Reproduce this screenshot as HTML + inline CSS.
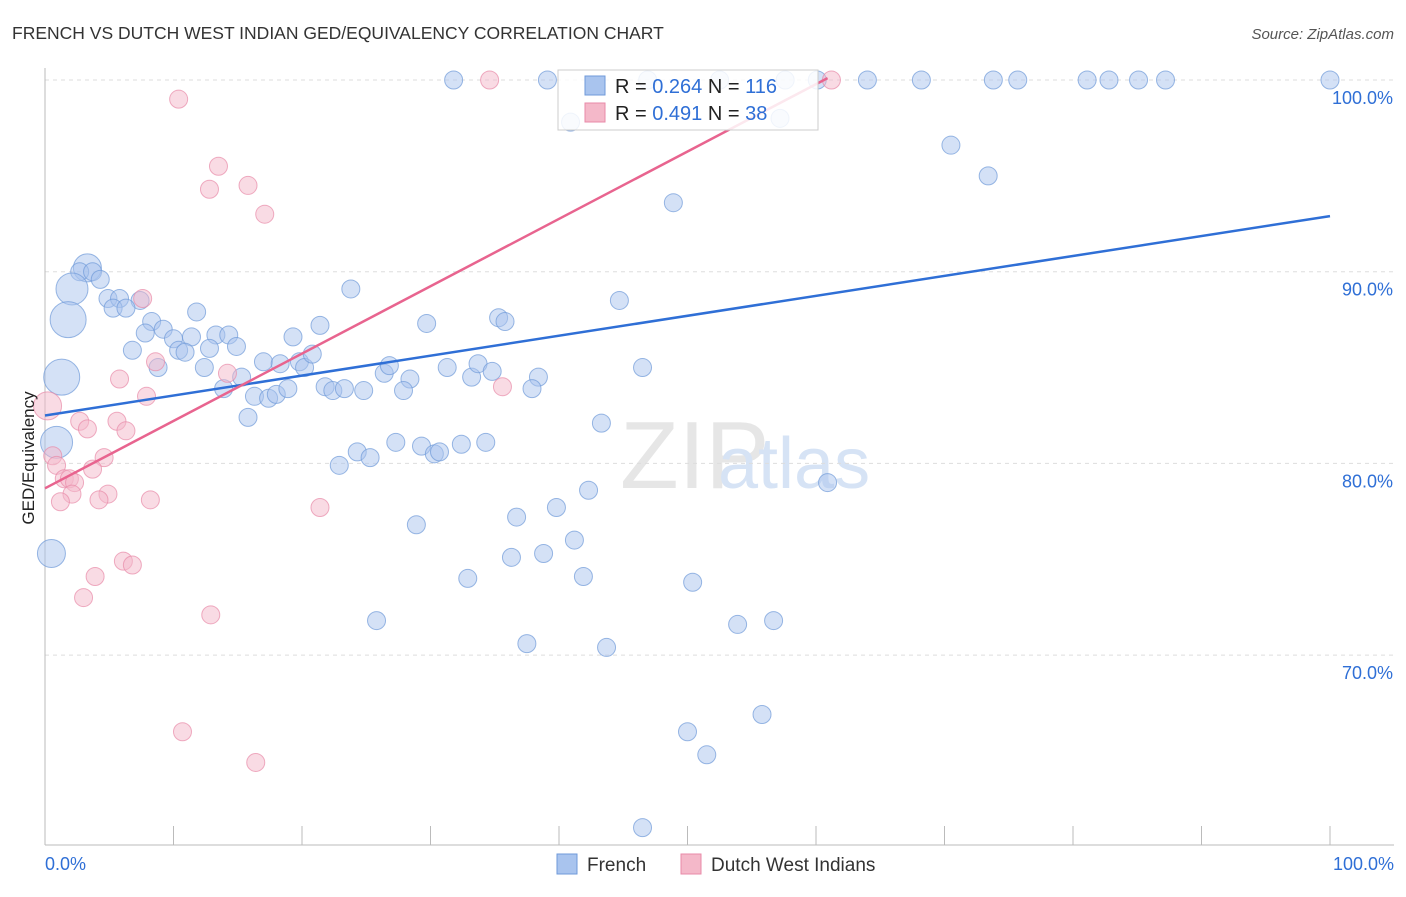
<!DOCTYPE html>
<html><head><meta charset="utf-8"><style>
body{margin:0;background:#fff;font-family:"Liberation Sans",sans-serif}
svg text{font-family:"Liberation Sans",sans-serif}
</style></head><body>
<svg id="c" width="1406" height="892">
<text x="12" y="39" font-size="17.5" fill="#333">FRENCH VS DUTCH WEST INDIAN GED/EQUIVALENCY CORRELATION CHART</text>
<text x="1394" y="39" font-size="15" fill="#555" font-style="italic" text-anchor="end">Source: ZipAtlas.com</text>
<text x="620" y="488" font-size="96" fill="#e6e6e6" font-family="Liberation Serif">ZIP</text>
<text x="718" y="488" font-size="72" fill="#d6e3f5">atlas</text>
<g id="grid"></g><g id="pts"></g><g id="lines"></g>
<text transform="translate(34,458) rotate(-90)" font-size="17" fill="#222" text-anchor="middle">GED/Equivalency</text>
<g>
<rect x="558" y="70" width="260" height="60" fill="#fff" fill-opacity="0.85" stroke="#ccc"/>
<rect x="585" y="76" width="20" height="19" fill="#a9c4ee" stroke="#6f9ad9"/>
<rect x="585" y="103" width="20" height="19" fill="#f4b8c9" stroke="#e88aa8"/>
<text x="615" y="93" font-size="20" fill="#222">R = <tspan fill="#2f6fd6">0.264</tspan>   N = <tspan fill="#2f6fd6">116</tspan></text>
<text x="615" y="120" font-size="20" fill="#222">R =  <tspan fill="#2f6fd6">0.491</tspan>   N =  <tspan fill="#2f6fd6">38</tspan></text>
</g>
<g>
<rect x="557" y="854" width="20" height="20" fill="#a9c4ee" stroke="#6f9ad9"/>
<text x="587" y="871" font-size="19" fill="#333">French</text>
<rect x="681" y="854" width="20" height="20" fill="#f4b8c9" stroke="#e88aa8"/>
<text x="711" y="871" font-size="19" fill="#333">Dutch West Indians</text>
</g>
</svg>
<script>
const yTicks=[100,90,80,70];
const yTickLabels=["100.0%","90.0%","80.0%","70.0%"];
const xTickLabels=["0.0%","100.0%"];
const frenchPts=[[31.8,100],[39.1,100],[46.9,100],[52.5,100],[57.6,100],[60.1,100],[64.0,100],[68.2,100],[73.8,100],[75.7,100],[81.1,100],[82.8,100],[85.1,100],[87.2,100],[100,100],
[40.9,97.8],[57.2,98.0],[70.5,96.6],[73.4,95.0],[48.9,93.6],[3.3,90.2],[2.7,90.0],[3.7,90.0],[4.3,89.6],[2.1,89.1],[4.9,88.6],[5.8,88.6],[7.4,88.5],[5.3,88.1],[6.3,88.1],[1.8,87.5],[11.8,87.9],[8.3,87.4],[9.2,87.0],[7.8,86.8],[10.0,86.5],[11.4,86.6],[13.3,86.7],[14.3,86.7],[6.8,85.9],[10.4,85.9],[10.9,85.8],[12.8,86.0],[14.9,86.1],[8.8,85.0],[12.4,85.0],[1.3,84.5],[17.0,85.3],[18.3,85.2],[19.8,85.3],[20.2,85.0],[20.8,85.7],[19.3,86.6],[21.4,87.2],[23.8,89.1],[29.7,87.3],[35.3,87.6],[35.8,87.4],[44.7,88.5],[15.3,84.5],[13.9,83.9],[16.3,83.5],[17.4,83.4],[18.0,83.6],[18.9,83.9],[21.8,84.0],[22.4,83.8],[23.3,83.9],[24.8,83.8],[26.4,84.7],[26.8,85.1],[28.4,84.4],[27.9,83.8],[31.3,85.0],[33.2,84.5],[33.7,85.2],[34.8,84.8],[38.4,84.5],[37.9,83.9],[46.5,85.0],[15.8,82.4],[0.9,81.1],[43.3,82.1],[24.3,80.6],[25.3,80.3],[27.3,81.1],[22.9,79.9],[29.3,80.9],[30.3,80.5],[30.7,80.6],[32.4,81.0],[34.3,81.1],[42.3,78.6],[60.9,79.0],[0.5,75.3],[28.9,76.8],[36.7,77.2],[39.8,77.7],[36.3,75.1],[38.8,75.3],[41.2,76.0],[32.9,74.0],[41.9,74.1],[50.4,73.8],[25.8,71.8],[53.9,71.6],[56.7,71.8],[37.5,70.6],[43.7,70.4],[50.0,66.0],[55.8,66.9],[51.5,64.8],[46.5,61.0]];
const frenchSizes={"3.3,90.2":14,"2.1,89.1":16,"1.8,87.5":18,"1.3,84.5":18,"0.9,81.1":16,"0.5,75.3":14};
const dutchPts=[[34.6,100],[61.2,100],[10.4,99.0],[13.5,95.5],[15.8,94.5],[12.8,94.3],[17.1,93.0],[7.6,88.6],[8.6,85.3],[14.2,84.7],[5.8,84.4],[7.9,83.5],[0.2,83.0],[2.7,82.2],[5.6,82.2],[3.3,81.8],[6.3,81.7],[35.6,84.0],[0.6,80.4],[4.6,80.3],[0.9,79.9],[3.7,79.7],[1.5,79.2],[1.9,79.2],[2.3,79.0],[2.1,78.4],[4.9,78.4],[1.2,78.0],[4.2,78.1],[8.2,78.1],[21.4,77.7],[6.1,74.9],[6.8,74.7],[3.9,74.1],[3.0,73.0],[12.9,72.1],[10.7,66.0],[16.4,64.4]];
const frenchTrend=[[0,82.5],[100,92.9]];
const dutchTrend=[[0,78.7],[60.9,100.1]];
const NS="http://www.w3.org/2000/svg";
const X=v=>45+v*12.85, Y=v=>80+(100-v)*19.17;
function mk(t,a,p){const e=document.createElementNS(NS,t);for(const k in a)e.setAttribute(k,a[k]);p.appendChild(e);return e;}
const g=document.getElementById('grid');
yTicks.forEach((t,i)=>{
 const l=mk('line',{x1:45,x2:1394,y1:Y(t),y2:Y(t),stroke:'#ddd','stroke-dasharray':'4,4'},g);
 
 
 const tx=mk('text',{x:1393,y:Y(t)+24,'font-size':18,fill:'#2f6fd6','text-anchor':'end'},g);
 tx.textContent=yTickLabels[i];
 
 
});
const ax=mk('line',{x1:45,x2:45,y1:68,y2:845,stroke:'#bbb'},g);


const bx=mk('line',{x1:45,x2:1394,y1:845,y2:845,stroke:'#bbb'},g);


for(let i=0;i<=10;i++){const t=mk('line',{x1:X(i*10),x2:X(i*10),y1:826,y2:845,stroke:'#bbb'},g);
 
 }
[[0,'start',45],[100,'end',1394]].forEach((d,i)=>{const t=mk('text',{x:d[2],y:870,'font-size':18,fill:'#2f6fd6','text-anchor':d[1]},g);t.textContent=xTickLabels[i];
 
 });
const p=document.getElementById('pts');
frenchPts.forEach(d=>{const c=mk('circle',{cx:X(d[0]),cy:Y(d[1]),r:frenchSizes[d[0]+','+d[1]]||9,fill:'#a9c4ee','fill-opacity':0.5,stroke:'#6f9ad9','stroke-opacity':0.7},p);
 
 });
dutchPts.forEach(d=>{const c=mk('circle',{cx:X(d[0]),cy:Y(d[1]),r:d[0]==0.2?14:9,fill:'#f4b8c9','fill-opacity':0.5,stroke:'#e88aa8','stroke-opacity':0.7},p);
 
 });
const L=document.getElementById('lines');
const a=mk('line',{x1:X(frenchTrend[0][0]),y1:Y(frenchTrend[0][1]),x2:X(frenchTrend[1][0]),y2:Y(frenchTrend[1][1]),stroke:'#2f6fd6','stroke-width':2.5},L);


const b=mk('line',{x1:X(dutchTrend[0][0]),y1:Y(dutchTrend[0][1]),x2:X(dutchTrend[1][0]),y2:Y(dutchTrend[1][1]),stroke:'#e8648f','stroke-width':2.5},L);


</script>
</body></html>
